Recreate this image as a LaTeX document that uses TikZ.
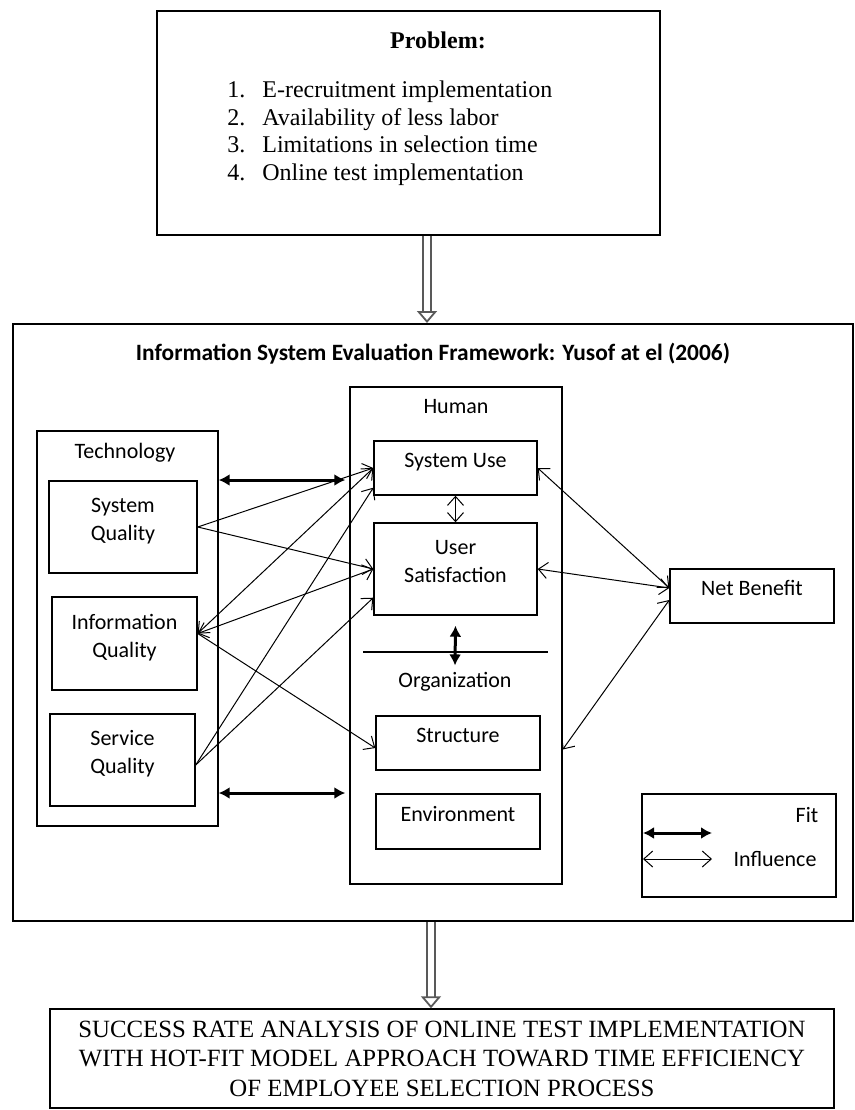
\documentclass[tikz,border=0pt]{standalone}
\usepackage{fontspec}
\setmainfont{Liberation Serif}
\newfontfamily\carlito{Carlito}
\usetikzlibrary{arrows.meta}

\begin{document}
\begin{tikzpicture}[x=0.5pt, y=-0.5pt,
    box/.style={draw, line width=0.7pt, inner sep=0pt},
    cbox/.style={box, font=\carlito\fontsize{11}{14}\selectfont, align=center, text depth=8pt},
    lbl/.style={font=\carlito\fontsize{11}{14}\selectfont},
    infl/.style={<->, >={Straight Barb[length=4.5pt,width=8pt]}, line width=0.5pt},
    inflto/.style={->, >={Straight Barb[length=4.5pt,width=8pt]}, line width=0.5pt},
    fitarr/.style={{Latex[length=5.5pt,width=6pt]}-{Latex[length=5.5pt,width=6pt]}, line width=1.5pt},
    hollow/.style={draw=black!65, double, double distance=3pt, line width=0.9pt, -{Triangle[open, length=6pt, width=10pt]}}]
    \useasboundingbox (0,0) rectangle (855,1110);

    % problem
    \node[box, line width=1pt, minimum width=251.5pt, minimum height=112pt] (problem) at (408.5,123) {};
    \node[font=\bfseries\fontsize{12}{14}\selectfont] (ptitle) at (438,40) {Problem:};
    \node[anchor=north west, inner sep=0pt, font=\fontsize{12}{13.75}\selectfont] (plist) at (227,78) {%
        \begin{tabular}{@{}p{17.5pt}@{}l@{}}
        1. & E-recruitment implementation\\
        2. & Availability of less labor\\
        3. & Limitations in selection time\\
        4. & Online test implementation
        \end{tabular}};

    % framework
    \node[box, line width=1pt, minimum width=420pt, minimum height=298.5pt] (fw) at (433,622.5) {};
    \node[font=\carlito\bfseries\fontsize{11.7}{14}\selectfont] (fwtitle) at (433,354) {Information System Evaluation Framework: Yusof at el (2006)};

    % technology
    \node[box, minimum width=90.5pt, minimum height=197.5pt] (tech) at (127.5,628.5) {};
    \node[lbl] (techlbl) at (125,453) {Technology};
    \node[cbox, minimum width=74pt, minimum height=46pt] (sysq) at (123,527) {System\\Quality};
    \node[cbox, minimum width=72.5pt, minimum height=46.5pt] (infq) at (124.5,643.5) {Information\\Quality};
    \node[cbox, minimum width=72.5pt, minimum height=46pt] (servq) at (122.5,760) {Service\\Quality};

    % human and organization
    \node[box, minimum width=106pt, minimum height=248.5pt] (human) at (456,635.5) {};
    \node[lbl] (humlbl) at (456,407) {Human};
    \node[cbox, minimum width=81.5pt, minimum height=27pt] (sysuse) at (455.5,468) {System Use};
    \node[cbox, minimum width=81.5pt, minimum height=46pt] (usat) at (455.5,569) {User\\Satisfaction};
    \draw[line width=0.7pt] (363,652) -- (548,652);
    \node[lbl] (org) at (455,682) {Organization};
    \node[cbox, minimum width=82pt, minimum height=27pt] (struct) at (458,743) {Structure};
    \node[cbox, minimum width=82pt, minimum height=27.5pt] (env) at (458,821.5) {Environment};

    % net benefit
    \node[cbox, minimum width=82pt, minimum height=27pt] (netb) at (752,596) {Net Benefit};

    % legend
    \node[box, minimum width=97pt, minimum height=51.5pt] (legend) at (739,845.5) {};
    \node[lbl] (fitlbl) at (807,815) {Fit};
    \node[lbl] (infllbl) at (775,859) {Influence};
    \coordinate (fitA) at (643,833);
    \coordinate (fitB) at (712,833);
    \coordinate (inflA) at (643,859);
    \coordinate (inflB) at (712,859);

    % goal
    \node[box, minimum width=392pt, minimum height=49.5pt, align=center, font=\fontsize{12.4}{14.75}\selectfont] (goal) at (442,1058.5) {SUCCESS RATE ANALYSIS OF ONLINE TEST IMPLEMENTATION\\WITH HOT-FIT MODEL APPROACH TOWARD TIME EFFICIENCY\\OF EMPLOYEE SELECTION PROCESS};

    % fit arrows
    \draw[fitarr, shorten >=2pt] (tech.east |- 0,480) -- (human.west |- 0,480);
    \draw[fitarr, shorten >=2pt] (tech.east |- 0,793) -- (human.west |- 0,793);
    \draw[fitarr] ([yshift=-5pt]usat.south) -- (org.north);
    \draw[fitarr] (fitA) -- (fitB);

    % influence arrows
    \draw[inflto] (sysq.east) -- (sysuse.west);
    \draw[inflto] (sysq.east) -- (usat.west);
    \draw[infl] ([yshift=5pt]infq.east) -- (sysuse.west);
    \draw[infl] ([yshift=5pt]infq.east) -- (usat.west);
    \draw[inflto] ([yshift=5pt]infq.east) -- ([yshift=-2.5pt]struct.west);
    \draw[inflto] ([yshift=-2.5pt]servq.east) -- ([yshift=4pt]sysuse.south west);
    \draw[inflto] ([yshift=-2.5pt]servq.east) -- ([yshift=9pt]usat.south west);
    \draw[infl] (sysuse.south) -- (usat.north);
    \draw[infl] (sysuse.east) -- ([yshift=4pt]netb.west);
    \draw[infl] (usat.east) -- ([yshift=4pt]netb.west);
    \draw[infl] ([yshift=-2pt]netb.west) -- ([yshift=-57pt]human.east);
    \draw[infl] (inflA) -- (inflB);

    % hollow arrows
    \coordinate (pdrop) at ([xshift=9.25pt]problem.south);
    \coordinate (fdrop) at ([xshift=-1pt]fw.south);
    \draw[hollow] (pdrop) -- (pdrop |- fw.north);
    \draw[hollow] (fdrop) -- (fdrop |- goal.north);
\end{tikzpicture}
\end{document}
